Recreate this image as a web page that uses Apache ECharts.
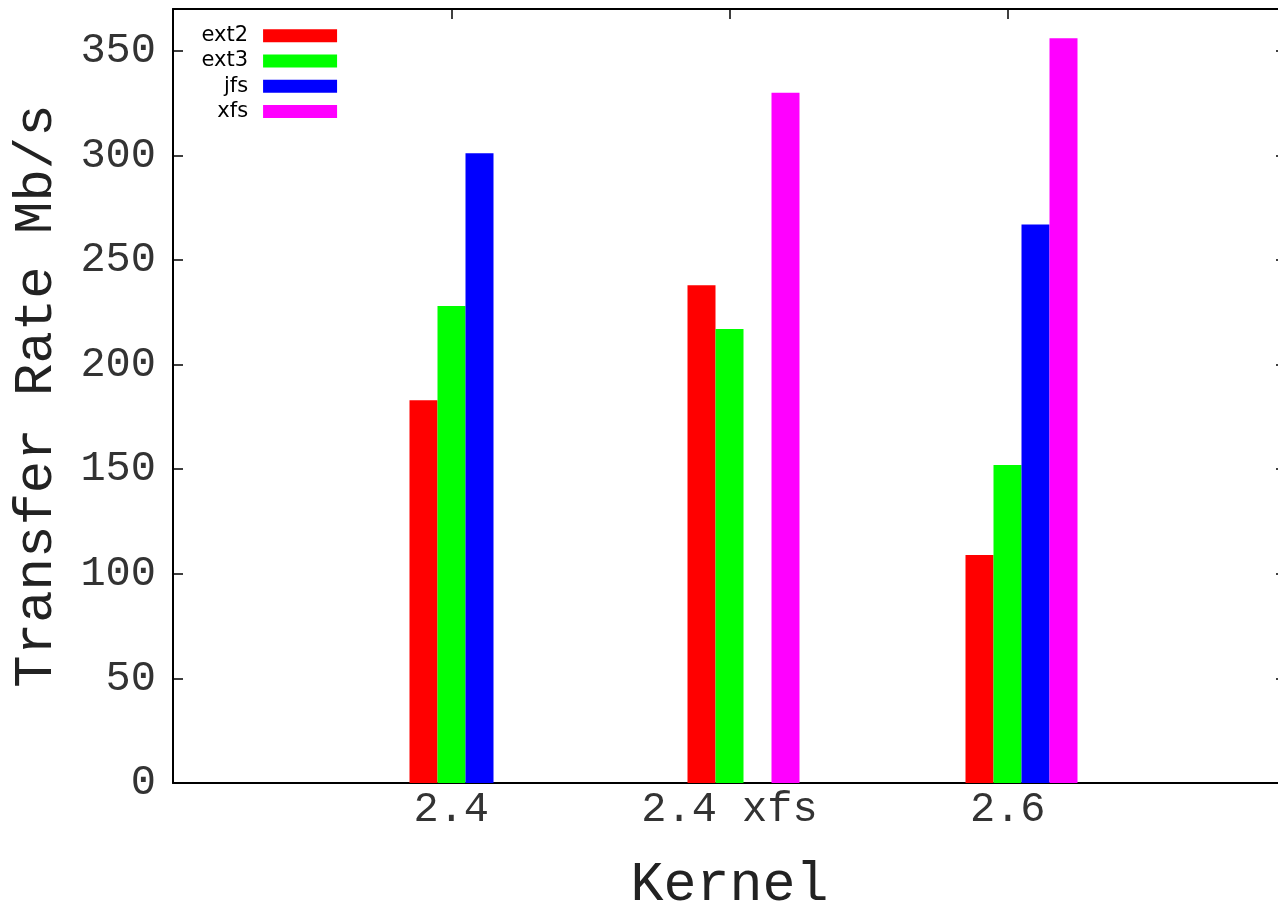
<!DOCTYPE html>
<html>
<head>
<meta charset="utf-8">
<script src="https://cdn.jsdelivr.net/npm/echarts@6/dist/echarts.min.js"></script>
<style>html,body{margin:0;padding:0;background:#fff}#c{width:1278px;height:902px}</style>
</head>
<body>
<div id="c"></div>
<script>
const categories = ['2.4', '2.4 xfs', '2.6'];
const ext2 = [183, 238, 109];
const ext3 = [228, 217, 152];
const jfs = [301, 0, 267];
const xfs = [0, 330, 356];
const yTicks = [0, 50, 100, 150, 200, 250, 300, 350];
const seriesNames = ['ext2', 'ext3', 'jfs', 'xfs'];
const seriesColors = ['#ff0000', '#00ff00', '#0000ff', '#ff00ff'];

const mono = 'Liberation Mono';
const chart = echarts.init(document.getElementById('c'));
const allData = [ext2, ext3, jfs, xfs];
const catLabel = v => (Number.isInteger(v) && v >= 0 && v < categories.length ? categories[v] : '');

const frameTick = { show: true, inside: true, length: 10, lineStyle: { color: '#000', width: 1.5 } };
const frameLine = { show: true, onZero: false, lineStyle: { color: '#000', width: 2 } };

chart.setOption({
  animation: false,
  backgroundColor: '#fff',
  grid: [
    { left: 173, right: -8, top: 9, bottom: 119, outerBoundsMode: 'none', containLabel: false },
    { left: 326.5, right: 117.5, top: 9, bottom: 119, outerBoundsMode: 'none', containLabel: false }
  ],
  legend: {
    orient: 'vertical',
    align: 'right',
    left: 201.5,
    top: 25.3,
    padding: 0,
    itemWidth: 74,
    itemHeight: 13,
    itemGap: 4.2,
    icon: 'rect',
    data: seriesNames,
    textStyle: { fontFamily: 'DejaVu Sans', fontSize: 21, color: '#000', padding: [0, 10, 0, 0] }
  },
  xAxis: [
    {
      type: 'value', gridIndex: 0, min: -1, max: 3, interval: 1, position: 'bottom',
      axisLine: frameLine, axisTick: frameTick, splitLine: { show: false },
      axisLabel: { fontFamily: mono, fontSize: 42, color: '#333', margin: 6, formatter: catLabel },
      name: 'Kernel', nameLocation: 'middle', nameGap: 75,
      nameTextStyle: { fontFamily: mono, fontSize: 55, color: '#222' }
    },
    {
      type: 'value', gridIndex: 0, min: -1, max: 3, interval: 1, position: 'top',
      axisLine: frameLine, axisTick: frameTick, splitLine: { show: false },
      axisLabel: { show: false }
    },
    {
      type: 'category', gridIndex: 1, data: categories, show: false
    }
  ],
  yAxis: [
    {
      type: 'value', gridIndex: 0, min: 0, max: 370, interval: 50, position: 'left',
      axisLine: frameLine, axisTick: frameTick, splitLine: { show: false },
      axisLabel: {
        fontFamily: mono, fontSize: 42, color: '#333', margin: 17, padding: [0, 0, 8, 0],
        formatter: v => (yTicks.indexOf(v) >= 0 ? String(v) : '')
      },
      name: 'Transfer Rate Mb/s', nameLocation: 'middle', nameGap: 109,
      nameTextStyle: { fontFamily: mono, fontSize: 54, color: '#222' }
    },
    {
      type: 'value', gridIndex: 0, min: 0, max: 370, interval: 50, position: 'right',
      axisLine: frameLine, axisTick: frameTick, splitLine: { show: false },
      axisLabel: { show: false }
    },
    {
      type: 'value', gridIndex: 1, min: 0, max: 370, interval: 50, show: false, splitLine: { show: false }
    }
  ],
  series: seriesNames.map((n, i) => ({
    name: n,
    type: 'bar',
    xAxisIndex: 2,
    yAxisIndex: 2,
    data: allData[i],
    barWidth: 28,
    barGap: '0%',
    itemStyle: { color: seriesColors[i] }
  }))
});
</script>
</body>
</html>
